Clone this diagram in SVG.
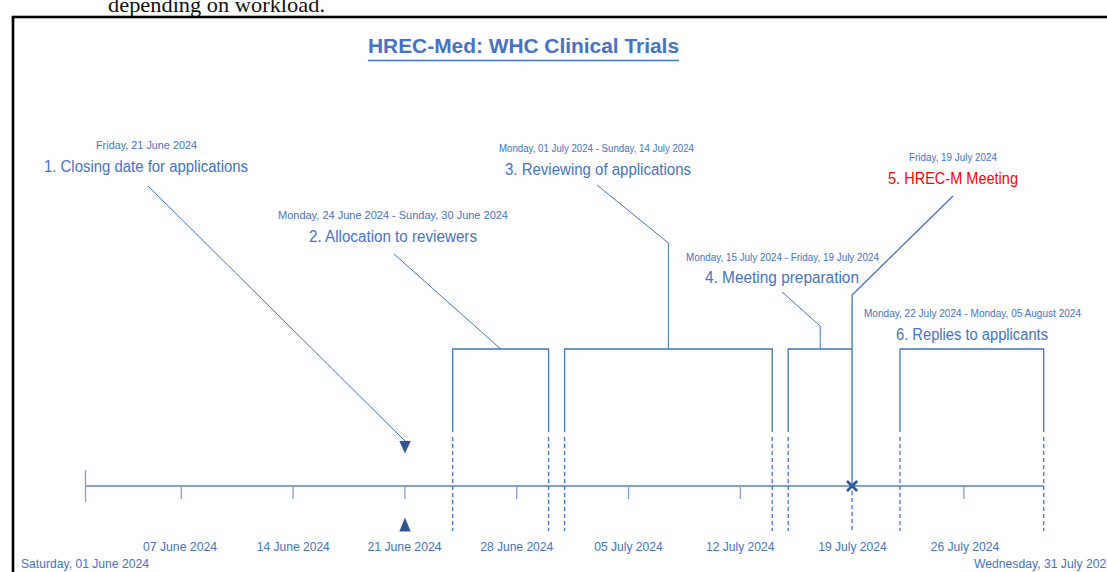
<svg xmlns="http://www.w3.org/2000/svg" width="1107" height="572" viewBox="0 0 1107 572">
<defs>
<style>
.lbl{font-family:"Liberation Sans",Arial,sans-serif;fill:#4472C4;text-anchor:middle}
.date{font-size:10.5px}
.main{font-size:16px}
.ax{font-family:"Liberation Sans",Arial,sans-serif;fill:#4472C4;font-size:13px;text-anchor:middle}
.br{fill:none;stroke:#4472C4;stroke-width:1.3}
.dash{fill:none;stroke:#4472C4;stroke-width:1.3;stroke-dasharray:4 3}
.con{fill:none;stroke:#4472C4;stroke-width:1}
.tick{stroke:#7F9FD8;stroke-width:1.3}
.mk{fill:#2F5597}
</style>
</defs>
<rect width="1107" height="572" fill="#ffffff"/>
<text x="108" y="12" font-family="'Liberation Serif','Times New Roman',serif" font-size="22" fill="#111" textLength="217" lengthAdjust="spacingAndGlyphs">depending on workload.</text>
<rect x="13" y="17" width="1200" height="600" fill="none" stroke="#000" stroke-width="2.6"/>

<g id="title">
<text x="523.5" y="53" font-family="'Liberation Sans',Arial,sans-serif" font-size="21" font-weight="bold" fill="#4472C4" text-anchor="middle" textLength="311" lengthAdjust="spacingAndGlyphs">HREC-Med: WHC Clinical Trials</text>
<line x1="368" y1="60.5" x2="679" y2="60.5" stroke="#4472C4" stroke-width="1.6"/>
</g>

<g id="axis">
<line x1="85.5" y1="486" x2="1043.7" y2="486" stroke="#7F9FD8" stroke-width="2"/>
<line class="tick" x1="85.5" y1="470" x2="85.5" y2="502"/>
<line class="tick" x1="181.3" y1="486" x2="181.3" y2="499"/>
<line class="tick" x1="293.1" y1="486" x2="293.1" y2="499"/>
<line class="tick" x1="404.9" y1="486" x2="404.9" y2="499"/>
<line class="tick" x1="516.7" y1="486" x2="516.7" y2="499"/>
<line class="tick" x1="628.5" y1="486" x2="628.5" y2="499"/>
<line class="tick" x1="740.3" y1="486" x2="740.3" y2="499"/>
<line class="tick" x1="963.9" y1="486" x2="963.9" y2="499"/>
<text class="ax" x="180" y="551" textLength="74" lengthAdjust="spacingAndGlyphs">07 June 2024</text>
<text class="ax" x="293.3" y="551" textLength="73" lengthAdjust="spacingAndGlyphs">14 June 2024</text>
<text class="ax" x="404.5" y="551" textLength="74" lengthAdjust="spacingAndGlyphs">21 June 2024</text>
<text class="ax" x="516.7" y="551" textLength="73" lengthAdjust="spacingAndGlyphs">28 June 2024</text>
<text class="ax" x="628.5" y="551" textLength="68.4" lengthAdjust="spacingAndGlyphs">05 July 2024</text>
<text class="ax" x="740.2" y="551" textLength="68.4" lengthAdjust="spacingAndGlyphs">12 July 2024</text>
<text class="ax" x="852.5" y="551" textLength="68.4" lengthAdjust="spacingAndGlyphs">19 July 2024</text>
<text class="ax" x="965" y="551" textLength="68.6" lengthAdjust="spacingAndGlyphs">26 July 2024</text>
<text class="ax" x="21" y="568" style="text-anchor:start" textLength="128" lengthAdjust="spacingAndGlyphs">Saturday, 01 June 2024</text>
<text class="ax" x="974" y="568" style="text-anchor:start" textLength="139" lengthAdjust="spacingAndGlyphs">Wednesday, 31 July 2024</text>
</g>

<g id="phase1">
<text class="lbl date" x="146.5" y="149" textLength="101" lengthAdjust="spacingAndGlyphs">Friday, 21 June 2024</text>
<text class="lbl main" x="146" y="172" textLength="204" lengthAdjust="spacingAndGlyphs">1. Closing date for applications</text>
<polygon class="mk" points="399.3,441 410.7,441 405,453.5"/>
<polygon class="mk" points="399.3,531.5 410.7,531.5 405,517.5"/>
</g>

<g id="phase2">
<text class="lbl date" x="393" y="219" textLength="230" lengthAdjust="spacingAndGlyphs">Monday, 24 June 2024 - Sunday, 30 June 2024</text>
<text class="lbl main" x="393" y="242" textLength="168" lengthAdjust="spacingAndGlyphs">2. Allocation to reviewers</text>
<path class="br" d="M452.7,432 V349 H548.6 V432"/>
<line class="dash" x1="452.7" y1="437" x2="452.7" y2="531"/>
<line class="dash" x1="548.6" y1="437" x2="548.6" y2="531"/>
</g>

<g id="phase3">
<text class="lbl date" x="596.5" y="152" textLength="195" lengthAdjust="spacingAndGlyphs">Monday, 01 July 2024 - Sunday, 14 July 2024</text>
<text class="lbl main" x="598" y="175" textLength="186" lengthAdjust="spacingAndGlyphs">3. Reviewing of applications</text>
<path class="br" d="M564.6,432 V349 H772.2 V432"/>
<line class="dash" x1="564.6" y1="437" x2="564.6" y2="531"/>
<line class="dash" x1="772.2" y1="437" x2="772.2" y2="531"/>
</g>

<g id="phase4">
<text class="lbl date" x="782.5" y="261" textLength="193" lengthAdjust="spacingAndGlyphs">Monday, 15 July 2024 - Friday, 19 July 2024</text>
<text class="lbl main" x="782" y="283" textLength="154" lengthAdjust="spacingAndGlyphs">4. Meeting preparation</text>
<path class="br" d="M788.2,432 V349 H852.1"/>
<line class="dash" x1="788.2" y1="437" x2="788.2" y2="531"/>
</g>

<g id="phase5">
<text class="lbl date" x="953" y="161" textLength="88" lengthAdjust="spacingAndGlyphs">Friday, 19 July 2024</text>
<text class="lbl main" x="953" y="184" style="fill:#FF0000" textLength="130" lengthAdjust="spacingAndGlyphs">5. HREC-M Meeting</text>
<line class="dash" x1="852.1" y1="491" x2="852.1" y2="531"/>
<path d="M847,481 L857.2,491 M847,491 L857.2,481" stroke="#2F5597" stroke-width="2.6" fill="none"/>
</g>

<g id="phase6">
<text class="lbl date" x="972.5" y="317" textLength="217" lengthAdjust="spacingAndGlyphs">Monday, 22 July 2024 - Monday, 05 August 2024</text>
<text class="lbl main" x="972" y="340" textLength="152" lengthAdjust="spacingAndGlyphs">6. Replies to applicants</text>
<path class="br" d="M900,432 V349 H1043.7 V432"/>
<line class="dash" x1="900" y1="437" x2="900" y2="531"/>
<line class="dash" x1="1043.7" y1="437" x2="1043.7" y2="531"/>
</g>

<g id="connectors">
<line class="con" x1="148" y1="186" x2="405" y2="441"/>
<polyline class="con" points="394,254 500.7,349"/>
<polyline class="con" points="597,185 668.4,243 668.4,349"/>
<polyline class="con" points="782,292 820.2,326 820.2,349"/>
<polyline class="con" points="953,196 852.1,295 852.1,486" style="stroke-width:1.3"/>
</g>
</svg>
